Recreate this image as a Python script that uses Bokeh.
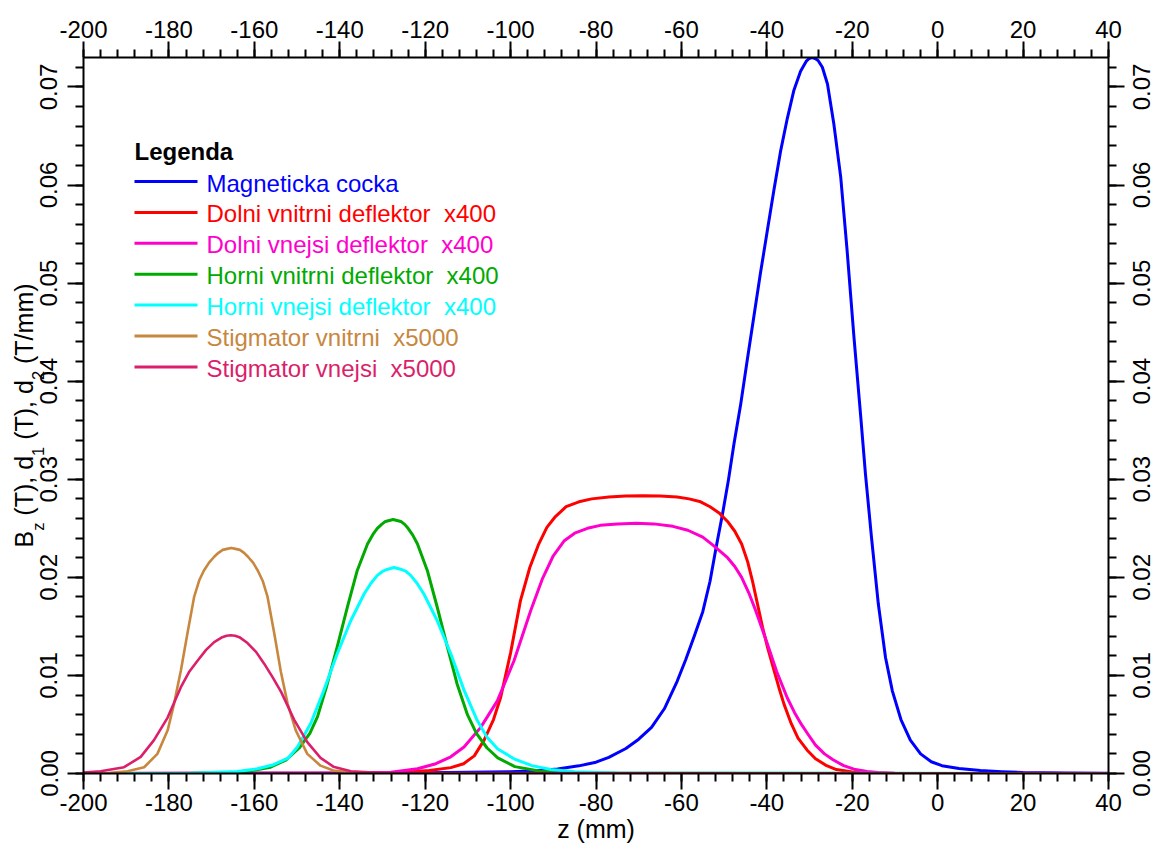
import math

from bokeh.core.properties import value
from bokeh.embed import file_html
from bokeh.models import LinearAxis, PrintfTickFormatter, Range1d, SingleIntervalTicker
from bokeh.plotting import figure
from bokeh.resources import INLINE

FONT = "Liberation Sans"

# ---------------------------------------------------------------- data
# z positions (mm) and field / deflection values (T, T/mm) of each element

z_lens = [-200, -150, -125, -110, -100, -94, -89, -84, -80, -77, -73, -70, -67,
          -64, -61, -59, -57, -55, -53.3, -51.9, -50.4, -49.0, -47.7, -46.1,
          -44.6, -43.0, -41.5, -39.9, -38.3, -36.8, -35.2, -33.7, -32.1, -30.8,
          -30.1, -29.4, -28.7, -28.0, -27.0, -25.8, -24.3, -22.7, -21.2, -19.6,
          -18.0, -16.9, -15.5, -13.9, -12.2, -10.6, -8.6, -6.4, -4.0, -1.5, 1,
          5, 10, 15, 20, 30, 40]
b_lens = [0, 0.00002, 0.00006, 0.00012, 0.00018, 0.00028, 0.00045, 0.00078,
          0.00115, 0.00165, 0.00255, 0.0035, 0.0047, 0.0066, 0.0094, 0.0116,
          0.0140, 0.0165, 0.0196, 0.0230, 0.0264, 0.0299, 0.0336, 0.0377,
          0.0421, 0.0467, 0.0510, 0.0553, 0.0596, 0.0634, 0.0668, 0.0696,
          0.0716, 0.0726, 0.0729, 0.0730, 0.0729, 0.0727, 0.0720, 0.0703,
          0.0662, 0.0608, 0.0533, 0.0445, 0.0363, 0.0305, 0.0241, 0.0173,
          0.0118, 0.0084, 0.0055, 0.0034, 0.0020, 0.0012, 0.0008, 0.00052,
          0.0003, 0.00018, 0.0001, 0.00005, 0.00003]

z_dolni_vnitrni = [-200, -140, -126, -119, -114, -111, -108.5, -106.2, -104,
                   -102.3, -100.0, -97.7, -95.5, -93.5, -91.5, -89.5, -87.0,
                   -84, -81, -77, -73, -69, -65, -61, -58.2, -55.5, -53.3, -51,
                   -49.2, -47.5, -45.9, -44.5, -43.4, -42.2, -41.0, -39.8,
                   -38.5, -37.2, -36.0, -34.3, -32.7, -30.6, -28.6, -26, -23.7,
                   -20, -16, -10, 40]
d_dolni_vnitrni = [0, 0.00002, 0.0001, 0.0003, 0.0006, 0.0010, 0.0018, 0.0034,
                   0.0055, 0.0078, 0.0123, 0.0176, 0.0210, 0.0233, 0.0251,
                   0.0262, 0.0272, 0.0277, 0.0280, 0.0282, 0.02830, 0.02832,
                   0.02830, 0.0282, 0.0280, 0.0277, 0.0272, 0.0265, 0.0257,
                   0.0247, 0.0234, 0.0216, 0.0197, 0.0173, 0.0149, 0.0128,
                   0.0108, 0.0088, 0.0071, 0.0051, 0.0036, 0.0024, 0.0015,
                   0.0008, 0.0004, 0.00015, 0.00005, 0, 0]

z_dolni_vnejsi = [-200, -140, -128, -121.8, -117.5, -114, -110.9, -107.0,
                  -103.1, -99.2, -95.3, -92.5, -90, -87.5, -85, -82, -79, -75,
                  -70.5, -66.5, -62, -58.5, -55, -52.4, -49.2, -47.5, -45.9,
                  -44.2, -42.6, -40.1, -37.7, -35.2, -33.5, -31.9, -30.2,
                  -28.6, -26.5, -24.5, -22, -19.6, -16.5, -13.9, -10, 40]
d_dolni_vnejsi = [0, 0.00003, 0.00013, 0.00048, 0.0010, 0.0017, 0.0027,
                  0.0047, 0.0074, 0.0115, 0.0166, 0.0199, 0.0222, 0.0237,
                  0.0245, 0.0250, 0.0253, 0.02545, 0.02552, 0.02545, 0.0252,
                  0.0248, 0.0241, 0.0232, 0.0220, 0.0211, 0.0200, 0.0184,
                  0.0166, 0.0135, 0.0104, 0.0077, 0.0062, 0.0050, 0.0039,
                  0.0029, 0.0020, 0.0014, 0.0008, 0.00044, 0.0002, 0.0001,
                  0.00003, 0]

z_horni_vnitrni = [-200, -175, -165, -161.6, -156.2, -152.5, -149.5, -147,
                   -145.2, -143, -140.6, -138.2, -135.9, -133.5, -132.2,
                   -131.2, -130.2, -129.3, -128.4, -127.5, -126.6, -125.7,
                   -124.8, -124.0, -122.9, -121.8, -119.5, -117.2, -114.8,
                   -112.5, -110.1, -108, -105.5, -103, -99, -93, -85, 40]
d_horni_vnitrni = [0, 0.00001, 0.00008, 0.00023, 0.00064, 0.0014, 0.0026,
                   0.0041, 0.0058, 0.0090, 0.0129, 0.0170, 0.0207, 0.0234,
                   0.0244, 0.0250, 0.0254, 0.0257, 0.0258, 0.0259, 0.0258,
                   0.0257, 0.0254, 0.0250, 0.0243, 0.0234, 0.0207, 0.0170,
                   0.0129, 0.0091, 0.0060, 0.0041, 0.0026, 0.0016, 0.0007,
                   0.00023, 0.00005, 0]

z_horni_vnejsi = [-200, -175, -164, -159.3, -155.5, -152, -149.9, -146.8,
                  -143.7, -140.6, -137.4, -134.3, -132.7, -131.2, -130.0,
                  -129, -128.1, -127.3, -126.4, -125.5, -124.5, -123.4, -121.9,
                  -120.3, -117.2, -114.0, -110.9, -107.8, -105.5, -103.0,
                  -99.2, -95, -90.6, -85, -75, 40]
d_horni_vnejsi = [0, 0.00003, 0.0002, 0.00048, 0.0009, 0.0016, 0.0027, 0.0051,
                  0.0085, 0.0122, 0.0156, 0.0183, 0.0194, 0.0202, 0.0206,
                  0.0208, 0.0209, 0.0210, 0.0209, 0.0208, 0.0206, 0.0202,
                  0.0194, 0.0183, 0.0156, 0.0122, 0.0085, 0.0054, 0.0037,
                  0.0025, 0.0015, 0.0008, 0.0004, 0.00018, 0.00005, 0]

z_stig_vnitrni = [-200, -194, -189.7, -185.8, -182.7, -180.3, -178.8, -177.2,
                  -175.7, -174.1, -172.9, -171.8, -170.6, -169.4, -168.4,
                  -167.4, -166.4, -165.4, -164.4, -163.4, -162.4, -161.5,
                  -160.3, -159.2, -158.0, -156.9, -155.3, -153.8, -152.2,
                  -150.3, -147.6, -144.5, -141.5, -137, -130, 40]
d_stig_vnitrni = [0, 0.00005, 0.00023, 0.00064, 0.0020, 0.0044, 0.0071,
                  0.0105, 0.0142, 0.0180, 0.0197, 0.0207, 0.0215, 0.0221,
                  0.0225, 0.0228, 0.0229, 0.0230, 0.0229, 0.0228, 0.0225,
                  0.0221, 0.0215, 0.0207, 0.0196, 0.0180, 0.0142, 0.0104,
                  0.0071, 0.0044, 0.0020, 0.0008, 0.0003, 0.0001, 0, 0]

z_stig_vnejsi = [-200, -196, -190.5, -186.6, -183.5, -180.3, -177.2, -175.2,
                 -173.3, -171.3, -169.4, -167.5, -166.5, -165.5, -164.5,
                 -163.5, -161.6, -159.6, -157.7, -155.7, -153.7, -150.7,
                 -147.6, -144.5, -141.5, -137.4, -130, 40]
d_stig_vnejsi = [0.0001, 0.00023, 0.00064, 0.0017, 0.0034, 0.0057, 0.0088,
                 0.0104, 0.0115, 0.0126, 0.0134, 0.0139, 0.01405, 0.0141,
                 0.01405, 0.0139, 0.0133, 0.0124, 0.0112, 0.0098, 0.0083,
                 0.0055, 0.0032, 0.0016, 0.0007, 0.00023, 0.00005, 0]

series_names = ["Magneticka cocka",
                "Dolni vnitrni deflektor\u00a0 x400",
                "Dolni vnejsi deflektor\u00a0 x400",
                "Horni vnitrni deflektor\u00a0 x400",
                "Horni vnejsi deflektor\u00a0 x400",
                "Stigmator vnitrni\u00a0 x5000",
                "Stigmator vnejsi\u00a0 x5000"]
series_z = [z_lens, z_dolni_vnitrni, z_dolni_vnejsi, z_horni_vnitrni,
            z_horni_vnejsi, z_stig_vnitrni, z_stig_vnejsi]
series_v = [b_lens, d_dolni_vnitrni, d_dolni_vnejsi, d_horni_vnitrni,
            d_horni_vnejsi, d_stig_vnitrni, d_stig_vnejsi]
series_colors = ["#0000FF", "#FF0000", "#FF00CC", "#00AA00", "#00FFFF",
                 "#C8873F", "#DB1F6B"]
series_widths = [3, 3, 3, 3, 3, 2.6, 2.6]

y_tick_values = [0.00, 0.01, 0.02, 0.03, 0.04, 0.05, 0.06, 0.07]

# ---------------------------------------------------------------- layout
X0, X1 = -200, 40
Y0, Y1 = 0.0, 0.073
W, H = 1154, 843
BL, BR, BT, BB = 83, 46, 57, 70
FL, FR, FT, FB = BL, W - BR, BT, H - BB
TXT = "24px"


def dx(px):
    """Screen x (px) -> data x."""
    return X0 + (px - FL) / (FR - FL) * (X1 - X0)


def dy(py):
    """Screen y (px) -> data y."""
    return Y0 + (FB - py) / (FB - FT) * (Y1 - Y0)


p = figure(width=W, height=H, x_range=Range1d(X0, X1), y_range=Range1d(Y0, Y1),
           output_backend="svg", toolbar_location=None,
           x_axis_location=None, y_axis_location=None,
           min_border_left=BL, min_border_right=BR,
           min_border_top=BT, min_border_bottom=BB)
p.xgrid.visible = False
p.ygrid.visible = False
p.outline_line_color = None
p.background_fill_color = "white"
p.border_fill_color = "white"


def make_axis(interval, fmt, orient, standoff, show_labels=True):
    ax = LinearAxis(ticker=SingleIntervalTicker(interval=interval, num_minor_ticks=5),
                    formatter=PrintfTickFormatter(format=fmt))
    ax.major_tick_out = 16
    ax.major_tick_in = 0
    ax.minor_tick_out = 8
    ax.minor_tick_in = 0
    ax.axis_line_width = 2
    ax.major_tick_line_width = 2
    ax.minor_tick_line_width = 2
    ax.axis_line_color = "black"
    ax.major_tick_line_color = "black"
    ax.minor_tick_line_color = "black"
    ax.major_label_text_font = FONT
    ax.major_label_text_font_size = TXT
    ax.major_label_text_color = "black" if show_labels else None
    ax.major_label_standoff = standoff
    ax.major_label_orientation = orient
    return ax


p.add_layout(make_axis(20, "%d", "horizontal", 4), "below")
p.add_layout(make_axis(20, "%d", "horizontal", 4), "above")
p.add_layout(make_axis(0.01, "%.2f", "parallel", 10), "left")
# right axis: ticks only, its labels are written below reading upwards
p.add_layout(make_axis(0.01, "%.2f", "parallel", 0, show_labels=False), "right")

# ---------------------------------------------------------------- curves
for zs, vs, col, lw in zip(series_z, series_v, series_colors, series_widths):
    p.line(zs, vs, line_color=col, line_width=lw, line_join="round")


def put_text(xs, ys, texts, size=TXT, color="black", angle=0.0, align="left",
             style="normal"):
    p.text(x=xs, y=ys, text=texts, angle=angle, text_font=value(FONT),
           text_font_size=size, text_font_style=style, text_color=color,
           text_align=align, text_baseline="middle", level="overlay")


# ---------------------------------------------------------------- right tick labels
put_text([dx(1141)] * len(y_tick_values), y_tick_values,
         ["%.2f" % v for v in y_tick_values],
         angle=math.pi / 2, align="center")

# ---------------------------------------------------------------- legend
LEG_X0, LEG_X1, LEG_TX = 134, 197, 206
ROW0, ROW_STEP = 181, 30.9

put_text([dx(LEG_X0)], [dy(151)], ["Legenda"], style="bold")
for i, (name, col) in enumerate(zip(series_names, series_colors)):
    ry = ROW0 + i * ROW_STEP
    p.segment(x0=[dx(LEG_X0)], y0=[dy(ry)], x1=[dx(LEG_X1)], y1=[dy(ry)],
              line_color=col, line_width=3)
    put_text([dx(LEG_TX)], [dy(ry + 1.5)], [name], color=col)

# ---------------------------------------------------------------- axis titles
put_text([dx((FL + FR) / 2)], [dy(828)], ["z (mm)"], size="25px", align="center")

# vertical title with subscripts, built piece by piece along the left side
ARIAL_W = {"B": .667, "z": .5, "(": .333, ")": .333, "T": .611, ",": .278,
           " ": .278, "d": .556, "1": .556, "2": .556, "/": .278, "m": .833}
MAIN, SUB = 25, 16.5
pieces = [("B", MAIN, 0), ("z", SUB, 0), ("(T), d", MAIN, 1), ("1", SUB, 0),
          ("(T), d", MAIN, 1), ("2", SUB, 0), ("(T/mm)", MAIN, 1)]


def piece_len(txt, size):
    return sum(ARIAL_W[c] for c in txt) * size


gap = ARIAL_W[" "] * MAIN
total = sum(piece_len(t, s) + (gap if g else 0) for t, s, g in pieces)
pos = (FT + FB) / 2 + total / 2
for txt, size, g in pieces:
    if g:
        pos -= gap
    cx = 23 if size == MAIN else 37
    put_text([dx(cx)], [dy(pos)], [txt], size=f"{size}px", angle=math.pi / 2)
    pos -= piece_len(txt, size)

open("out.html", "w").write(file_html(p, INLINE))
